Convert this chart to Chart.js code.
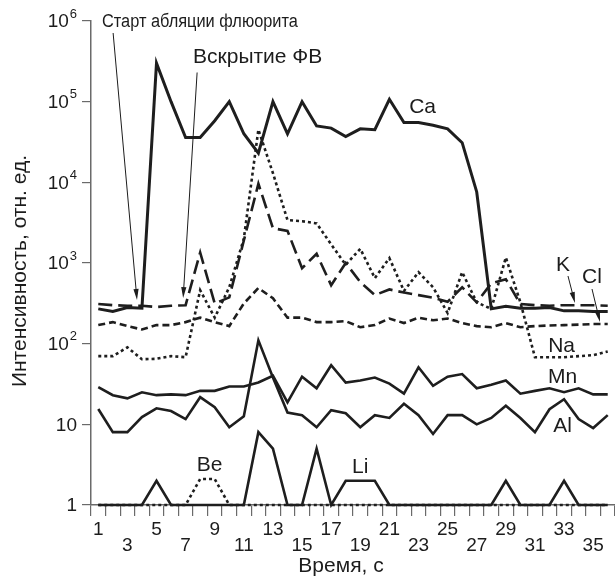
<!DOCTYPE html>
<html lang="ru">
<head>
<meta charset="utf-8">
<title>Интенсивность</title>
<script src="https://cdn.jsdelivr.net/npm/chart.js@4.4.1/dist/chart.umd.min.js"></script>
<style>
  html, body { margin: 0; padding: 0; background: #fff; }
  #wrap { width: 615px; height: 579px; position: relative; }
</style>
</head>
<body>
<div id="wrap"><canvas id="chart"></canvas></div>
<script>
// time, s
const times = [1, 2, 3, 4, 5, 6, 7, 8, 9, 10, 11, 12, 13, 14, 15, 16, 17, 18,
               19, 20, 21, 22, 23, 24, 25, 26, 27, 28, 29, 30, 31, 32, 33, 34, 35, 36];
const yTicks = [1, 10, 100, 1000, 10000, 100000, 1000000];

// intensities, arb. units
const ca = [270, 250, 280, 275, 300000, 100000, 36000, 36000, 58000, 100000, 40000, 23000,
            100000, 40000, 100000, 50000, 47000, 37000, 46000, 45000, 107000, 55000, 55000, 51000,
            46000, 31000, 7600, 270, 290, 275, 275, 280, 255, 255, 250, 250];
const k  = [310, 300, 295, 295, 285, 295, 300, 1350, 315, 375, 1900, 9600,
            2700, 2500, 860, 1300, 530, 1000, 580, 400, 470, 430, 400, 370,
            330, 500, 325, 560, 630, 310, 300, 295, 300, 300, 300, 295];
const cl = [170, 185, 165, 150, 170, 170, 185, 210, 185, 165, 315, 490,
            365, 210, 210, 185, 185, 190, 160, 170, 205, 180, 210, 195,
            205, 180, 165, 160, 180, 160, 165, 168, 170, 172, 175, 175];
const na = [70, 70, 90, 64, 65, 70, 68, 460, 210, 500, 2000, 45000,
            13000, 3400, 3300, 3100, 1700, 950, 1500, 650, 1150, 450, 770, 500,
            240, 770, 325, 270, 1170, 325, 68, 68, 68, 70, 72, 80];
const mn = [29, 23, 21, 25, 23, 23.5, 23, 26, 26, 29.5, 29.5, 33,
            40, 18.7, 39, 28, 54, 33, 35, 38, 32, 24, 51, 30,
            39, 42, 28, 31, 35, 24, 26, 28, 25, 28, 23.5, 23.5];
const al = [15.5, 8, 8, 12.3, 15.8, 14.6, 11.6, 21.7, 16.3, 9.2, 12.6, 110,
            38, 14, 13, 9.2, 15, 13.7, 9.2, 13, 12, 18, 13, 7.6,
            13, 13, 10, 12, 17, 12, 8, 15.4, 20.5, 11.6, 9, 13];
const be = [1, 1, 1, 1, 1, 1, 1, 2.1, 2.1, 1, 1, 1, 1, 1, 1, 1, 1, 1,
            1, 1, 1, 1, 1, 1, 1, 1, 1, 1, 1, 1, 1, 1, 1, 1, 1, 1];
const li = [1, 1, 1, 1, 2, 1, 1, 1, 1, 1, 1, 8, 5, 1, 1, 5, 1, 2,
            2, 2, 1, 1, 1, 1, 1, 1, 1, 1, 2, 1, 1, 1, 2, 1, 1, 1];

// text and arrows, placed in data coordinates
const seriesLabels = [
  { text: 'Ca', x: 23.28, y: 85000 },
  { text: 'K',  x: 32.93, y: 930 },
  { text: 'Cl', x: 34.92, y: 660 },
  { text: 'Na', x: 32.83, y: 92 },
  { text: 'Mn', x: 32.9,  y: 38 },
  { text: 'Al', x: 32.9,  y: 9.4 },
  { text: 'Be', x: 8.65,  y: 3.09 },
  { text: 'Li', x: 18.99, y: 2.92 }
];
const notes = [
  { text: 'Старт абляции флюорита', x: 1.25, y: 970000, size: 18, maxWidth: 196 },
  { text: 'Вскрытие ФВ', x: 7.51, y: 360000, size: 21, maxWidth: 132 }
];
const arrows = [
  { from: [2.02, 710000], to: [3.66, 348] },
  { from: [7.79, 230000], to: [6.83, 368] },
  { from: [33.27, 690], to: [33.75, 319] },
  { from: [34.92, 476], to: [35.47, 185] }
];

const FONT = '"Liberation Sans", Arial, sans-serif';
const TEXT = '#1c1c1c';
const LINE = '#1e1e1e';
const AXIS = '#6a6a6a';

function toPoints(arr) {
  return times.map((t, i) => ({ x: t, y: arr[i] }));
}

function series(label, arr, width, dash) {
  return {
    label: label,
    data: toPoints(arr),
    borderColor: LINE,
    borderWidth: width,
    borderDash: dash || [],
    borderJoinStyle: 'miter',
    pointRadius: 0,
    tension: 0,
    fill: false,
    clip: false
  };
}

function drawArrow(ctx, x1, y1, x2, y2) {
  const a = Math.atan2(y2 - y1, x2 - x1);
  const len = 11, w = 2.6;
  ctx.beginPath();
  ctx.moveTo(x1, y1);
  ctx.lineTo(x2 - len * 0.7 * Math.cos(a), y2 - len * 0.7 * Math.sin(a));
  ctx.stroke();
  ctx.beginPath();
  ctx.moveTo(x2, y2);
  ctx.lineTo(x2 - len * Math.cos(a) + w * Math.sin(a), y2 - len * Math.sin(a) - w * Math.cos(a));
  ctx.lineTo(x2 - len * Math.cos(a) - w * Math.sin(a), y2 - len * Math.sin(a) + w * Math.cos(a));
  ctx.closePath();
  ctx.fill();
}

// y tick labels with superscripts, axis titles, series labels and arrows
const overlay = {
  id: 'overlay',
  afterDraw(chart) {
    const { ctx, chartArea, scales: { x, y } } = chart;
    ctx.save();
    ctx.fillStyle = TEXT;
    ctx.strokeStyle = TEXT;

    const right = chartArea.left - 14;
    yTicks.forEach(v => {
      const p = y.getPixelForValue(v);
      const exp = Math.round(Math.log10(v));
      ctx.textBaseline = 'middle';
      ctx.textAlign = 'right';
      if (exp < 2) {
        ctx.font = '19px ' + FONT;
        ctx.fillText(String(v), right, p + 1);
      } else {
        ctx.font = '13px ' + FONT;
        const ew = ctx.measureText(String(exp)).width;
        ctx.fillText(String(exp), right, p - 7);
        ctx.font = '19px ' + FONT;
        ctx.fillText('10', right - ew - 1, p + 1);
      }
    });

    // axis titles
    ctx.font = '21px ' + FONT;
    ctx.textAlign = 'center';
    ctx.textBaseline = 'middle';
    ctx.fillText('Время, с', 341, 566);
    ctx.save();
    ctx.translate(20, 271);
    ctx.rotate(-Math.PI / 2);
    ctx.fillText('Интенсивность, отн. ед.', 0, 0);
    ctx.restore();

    seriesLabels.forEach(l => {
      ctx.fillText(l.text, x.getPixelForValue(l.x), y.getPixelForValue(l.y));
    });

    ctx.textAlign = 'left';
    notes.forEach(n => {
      ctx.font = n.size + 'px ' + FONT;
      ctx.fillText(n.text, x.getPixelForValue(n.x), y.getPixelForValue(n.y), n.maxWidth);
    });

    ctx.lineWidth = 1;
    arrows.forEach(a => {
      drawArrow(ctx,
        x.getPixelForValue(a.from[0]), y.getPixelForValue(a.from[1]),
        x.getPixelForValue(a.to[0]), y.getPixelForValue(a.to[1]));
    });
    ctx.restore();
  }
};

new Chart(document.getElementById('chart'), {
  type: 'line',
  data: {
    datasets: [
      series('Ca', ca, 3),
      series('K', k, 2.6, [14, 6]),
      series('Cl', cl, 2.6, [7, 4]),
      series('Na', na, 2.6, [3, 3]),
      series('Mn', mn, 2.6),
      series('Al', al, 2.6),
      series('Be', be, 2.6, [3, 3]),
      series('Li', li, 2.6)
    ]
  },
  options: {
    responsive: true,
    maintainAspectRatio: false,
    animation: false,
    devicePixelRatio: 1,
    layout: { padding: { top: 21, left: 0, right: 0, bottom: 0 } },
    plugins: {
      legend: { display: false },
      tooltip: { enabled: false }
    },
    scales: {
      x: {
        type: 'linear',
        min: 0.5,
        max: 36.5,
        afterBuildTicks: axis => { axis.ticks = times.map(v => ({ value: v })); },
        afterFit: axis => { axis.height = 74; },
        grid: { offset: true, drawOnChartArea: false, tickLength: 11, color: AXIS, lineWidth: 1.2 },
        border: { color: AXIS, width: 1.5 },
        ticks: {
          autoSkip: false,
          maxRotation: 0,
          padding: 6,
          color: TEXT,
          font: { family: FONT, size: 19, lineHeight: 0.85 },
          callback: v => {
            if (v % 4 === 1) return String(v);
            if (v % 4 === 3) return ['', String(v)];
            return '';
          }
        }
      },
      y: {
        type: 'logarithmic',
        min: 1,
        max: 1000000,
        afterBuildTicks: axis => { axis.ticks = yTicks.map(v => ({ value: v })); },
        afterFit: axis => { axis.width = 91; },
        grid: { drawOnChartArea: false, tickLength: 9, color: AXIS, lineWidth: 1.2 },
        border: { color: AXIS, width: 1.5 },
        ticks: { display: false }
      }
    }
  },
  plugins: [overlay]
});
</script>
</body>
</html>
